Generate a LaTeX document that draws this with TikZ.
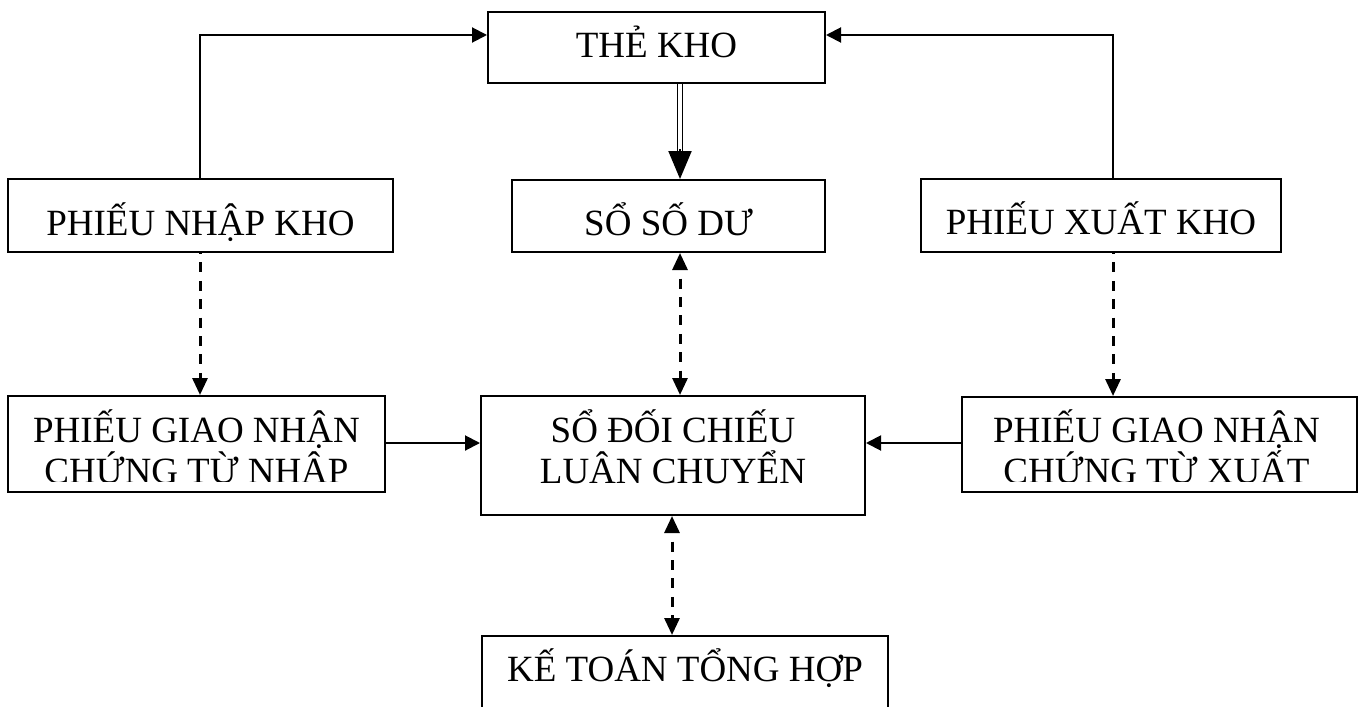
\documentclass[tikz,border=0pt]{standalone}
\usepackage{fontspec}
\setmainfont{Liberation Serif}
\usetikzlibrary{arrows.meta, positioning, calc}

\begin{document}
\begin{tikzpicture}[
    x=0.5pt, y=-0.5pt,
    >={Triangle[length=7.5pt,width=7.5pt]},
    box/.style={rectangle, draw, line width=1pt, inner sep=0pt, align=center, text height=20pt, font=\fontsize{18.5}{20.5}\selectfont},
    txt/.style={inner sep=0pt, align=center, font=\fontsize{18.5}{20.5}\selectfont},
    arrow/.style={line width=1pt, ->},
    dline/.style={line width=1.5pt, dash pattern=on 5pt off 4.2pt, dash phase=4.5pt, -{Triangle[length=8.5pt,width=7.5pt]}},
    ddline/.style={line width=1.5pt, dash pattern=on 5pt off 4.2pt, dash phase=4.5pt, {Triangle[length=8.5pt,width=7.5pt]}-{Triangle[length=8.5pt,width=7.5pt]}}
]
\useasboundingbox (0,0) rectangle (1358,706);
% Blocks
\node (theKho) [box, minimum width=168.5pt, minimum height=35.5pt, text depth=9.5pt] at (656.5,47.5) {THẺ KHO};
\node (phieuNhap) [box, minimum width=192.5pt, minimum height=36.5pt, text depth=0.5pt] at (200.5,215.5) {PHIẾU NHẬP KHO};
\node (soDu) [box, minimum width=156.5pt, minimum height=36pt, text depth=1pt] at (668.5,216) {SỔ SỐ DƯ};
\node (phieuXuat) [box, minimum width=180pt, minimum height=36.5pt, text depth=1.5pt] at (1101,215.5) {PHIẾU XUẤT KHO};
\node (giaoNhap) [box, minimum width=188.5pt, minimum height=48pt] at (196.5,444) {};
\node (soDoiChieu) [box, minimum width=192pt, minimum height=59.5pt, text height=43pt, text depth=15.5pt] at (673,455.5) {SỔ ĐỐI CHIẾU\\LUÂN CHUYỂN};
\node (giaoXuat) [box, minimum width=197.5pt, minimum height=47.5pt] at (1159.5,444.5) {};
\node (keToan) [box, minimum width=203pt, minimum height=36pt, text depth=11pt] at (685,672) {KẾ TOÁN TỔNG HỢP};
% Clipped texts
\begin{scope}
  \clip (giaoNhap.north west) rectangle ([yshift=6pt]giaoNhap.south east);
  \node (giaoNhapText) [txt, anchor=base] at ($(giaoNhap.center)+(0,39)$) {PHIẾU GIAO NHẬN\\CHỨNG TỪ NHẬP};
\end{scope}
\begin{scope}
  \clip (giaoXuat.north west) rectangle ([yshift=6pt]giaoXuat.south east);
  \node (giaoXuatText) [txt, anchor=base] at ($(giaoXuat.center)+(-3,38.5)$) {PHIẾU GIAO NHẬN\\CHỨNG TỪ XUẤT};
\end{scope}
% Arrows
\coordinate (nx) at (200,0);
\coordinate (xx) at (1113,0);
\coordinate (dx) at (680,0);
\coordinate (kx) at (672,0);
\coordinate (ty) at (0,35);
\coordinate (gy) at (0,443);
\draw [arrow] (phieuNhap.north -| nx) |- (theKho.west |- ty);
\draw [arrow] (phieuXuat.north -| xx) |- (theKho.east |- ty);
\draw [line width=0.9pt, double, double distance=1.6pt, shorten >=12pt] (theKho.south -| dx) -- (soDu.north -| dx);
\draw [line width=1pt, -{Triangle[length=14pt,width=11.5pt]}] ($(soDu.north -| dx)+(0,-30)$) -- (soDu.north -| dx);
\draw [dline] (phieuNhap.south -| nx) -- (giaoNhap.north -| nx);
\draw [dline] (phieuXuat.south -| xx) -- (giaoXuat.north -| xx);
\draw [ddline] (soDu.south -| dx) -- (soDoiChieu.north -| dx);
\draw [ddline] (soDoiChieu.south -| kx) -- (keToan.north -| kx);
\draw [arrow] (giaoNhap.east |- gy) -- (soDoiChieu.west |- gy);
\draw [arrow] (giaoXuat.west |- gy) -- (soDoiChieu.east |- gy);
\end{tikzpicture}
\end{document}
